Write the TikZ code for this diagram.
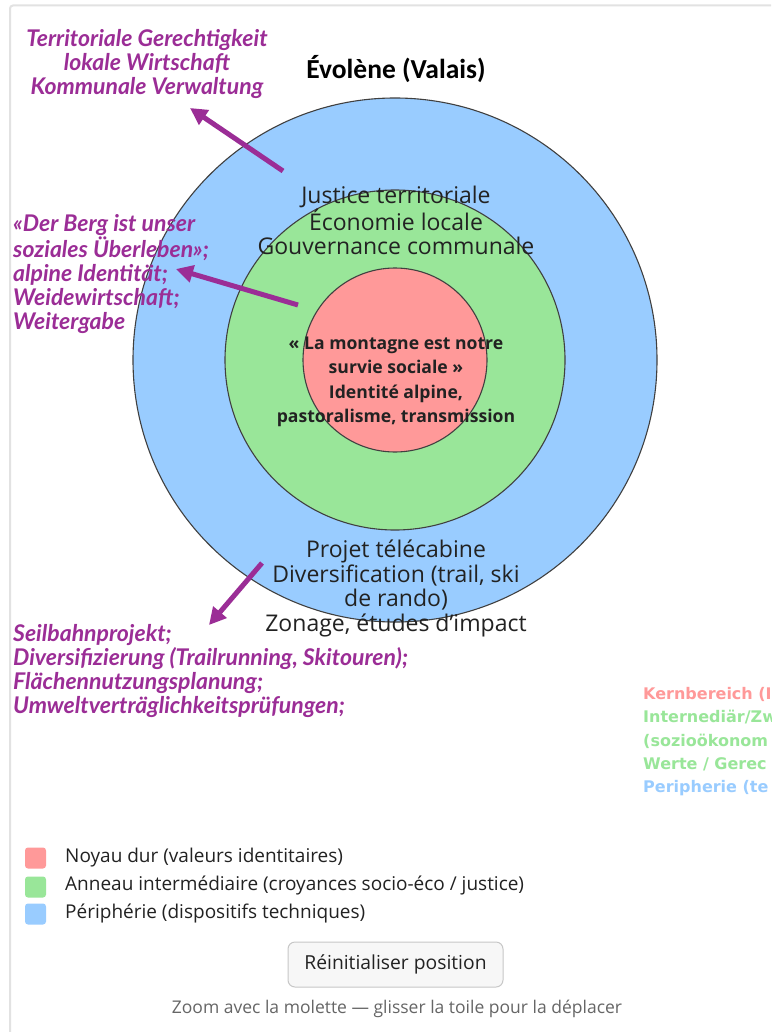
\documentclass[tikz,border=0pt]{standalone}
\usepackage{fontspec}
\setmainfont{Open Sans}
\newfontfamily\purplefont{Lato}
\newfontfamily\titlefont{Carlito}
\newfontfamily\widefont{DejaVu Sans}
\usetikzlibrary{arrows.meta}
\definecolor{corered}{HTML}{FF9999}
\definecolor{ringgreen}{HTML}{99E699}
\definecolor{periblue}{HTML}{99CCFF}
\definecolor{annot}{RGB}{155,45,150}
\definecolor{framegray}{HTML}{E2E2E2}
\definecolor{txtdark}{HTML}{222222}
\tikzset{
  ring/.style={circle, draw=black!75, line width=1.1pt, inner sep=0pt},
  annottext/.style={text=annot, font=\purplefont\bfseries\itshape\fontsize{23}{23.9}\selectfont, inner sep=0pt},
  ringtext/.style={text=txtdark, align=center, inner sep=0pt, font=\fontsize{23}{24.6}\selectfont},
  coretext/.style={text=txtdark, align=center, inner sep=0pt, font=\bfseries\fontsize{17.6}{24.5}\selectfont},
  annotarrow/.style={draw=annot, line width=5pt, -{Triangle[length=17pt,width=17pt]}},
  legsq/.style={rounded corners=3pt, minimum width=21pt, minimum height=21pt, inner sep=0pt},
  legtext/.style={anchor=west, text=txtdark, inner sep=0pt, font=\fontsize{19}{20}\selectfont},
  sidelegend/.style={anchor=west, inner sep=0pt, align=left, font=\widefont\bfseries\fontsize{16}{23.5}\selectfont}
}
\begin{document}
\begin{tikzpicture}[x=1pt,y=-1pt]
\useasboundingbox (0,0) rectangle (771,1032);
\fill[white] (0,0) rectangle (771,1032);
% frame
\draw[framegray, line width=2pt, rounded corners=3pt] (771,5.5) -- (10,5.5) -- (10,1032);
% title
\node[font=\titlefont\bfseries\fontsize{27.5}{30}\selectfont, text=black, inner sep=0pt] (title) at (396,69) {Évolène (Valais)};
% circles
\node[ring, fill=periblue, minimum size=524pt] (outer) at (395,360) {};
\node[ring, fill=ringgreen, minimum size=340pt] (middle) at (395,360) {};
\node[ring, fill=corered, minimum size=184pt] (core) at (395,360) {};
% circle texts
\node[ringtext] (ringtop) at (396,220.5) {Justice territoriale\\Économie locale\\Gouvernance communale};
\node[coretext] (coretxt) at (396,382) {« La montagne est notre\\survie sociale »\\Identité alpine,\\pastoralisme, transmission};
\node[ringtext] (peritxt) at (396,588.5) {Projet télécabine\\Diversification (trail, ski\\de rando)\\Zonage, études d'impact};
% annotations
\node[annottext, align=center] (annA) at (147,64) {Territoriale Gerechtigkeit\\lokale Wirtschaft\\Kommunale Verwaltung};
\node[annottext, align=left, anchor=west] (annB) at (13,274) {«Der Berg ist unser\\soziales Überleben»;\\alpine Identität;\\Weidewirtschaft;\\Weitergabe};
\node[annottext, align=left, anchor=west] (annC) at (13,671) {Seilbahnprojekt;\\Diversifizierung (Trailrunning, Skitouren);\\Flächennutzungsplanung;\\Umweltverträglichkeitsprüfungen;};
% arrows
\coordinate (aAs) at (283,171);
\coordinate (aAe) at (190,108);
\coordinate (aBs) at (298,305);
\coordinate (aBe) at (176,269);
\coordinate (aCs) at (262,563);
\coordinate (aCe) at (209,625);
\draw[annotarrow] (aAs) -- (aAe);
\draw[annotarrow] (aBs) -- (aBe);
\draw[annotarrow] (aCs) -- (aCe);
% side legend, cut off at the right edge as in the reference
\begin{scope}
\clip (600,650) rectangle (771,820);
\node[sidelegend, text=corered] (sideK) at (643,694) {Kernbereich (I};
\node[sidelegend, text=ringgreen] (sideI) at (643,741) {Internediär/Zw\\(sozioökonom\\Werte / Gerec};
\node[sidelegend, text=periblue] (sideP) at (643,788) {Peripherie (te};
\end{scope}
% legend
\node[legsq, fill=corered] (sqR) at (35.5,858) {};
\node[legsq, fill=ringgreen] (sqG) at (35.5,887) {};
\node[legsq, fill=periblue] (sqB) at (35.5,914) {};
\node[legtext] (legR) at (65,858) {Noyau dur (valeurs identitaires)};
\node[legtext] (legG) at (65,885.5) {Anneau intermédiaire (croyances socio-éco / justice)};
\node[legtext] (legB) at (65,913) {Périphérie (dispositifs techniques)};
% button
\node[draw=black!22, fill=black!3, rounded corners=7pt, line width=1pt, minimum width=215pt, minimum height=45pt, inner sep=0pt, text=txtdark, font=\fontsize{19.3}{20}\selectfont] (btn) at (395.5,964.5) {Réinitialiser position};
% footer
\node[text=black!60, inner sep=0pt, font=\fontsize{17.5}{18}\selectfont] (footer) at (397,1009) {Zoom avec la molette — glisser la toile pour la déplacer};
\end{tikzpicture}
\end{document}
